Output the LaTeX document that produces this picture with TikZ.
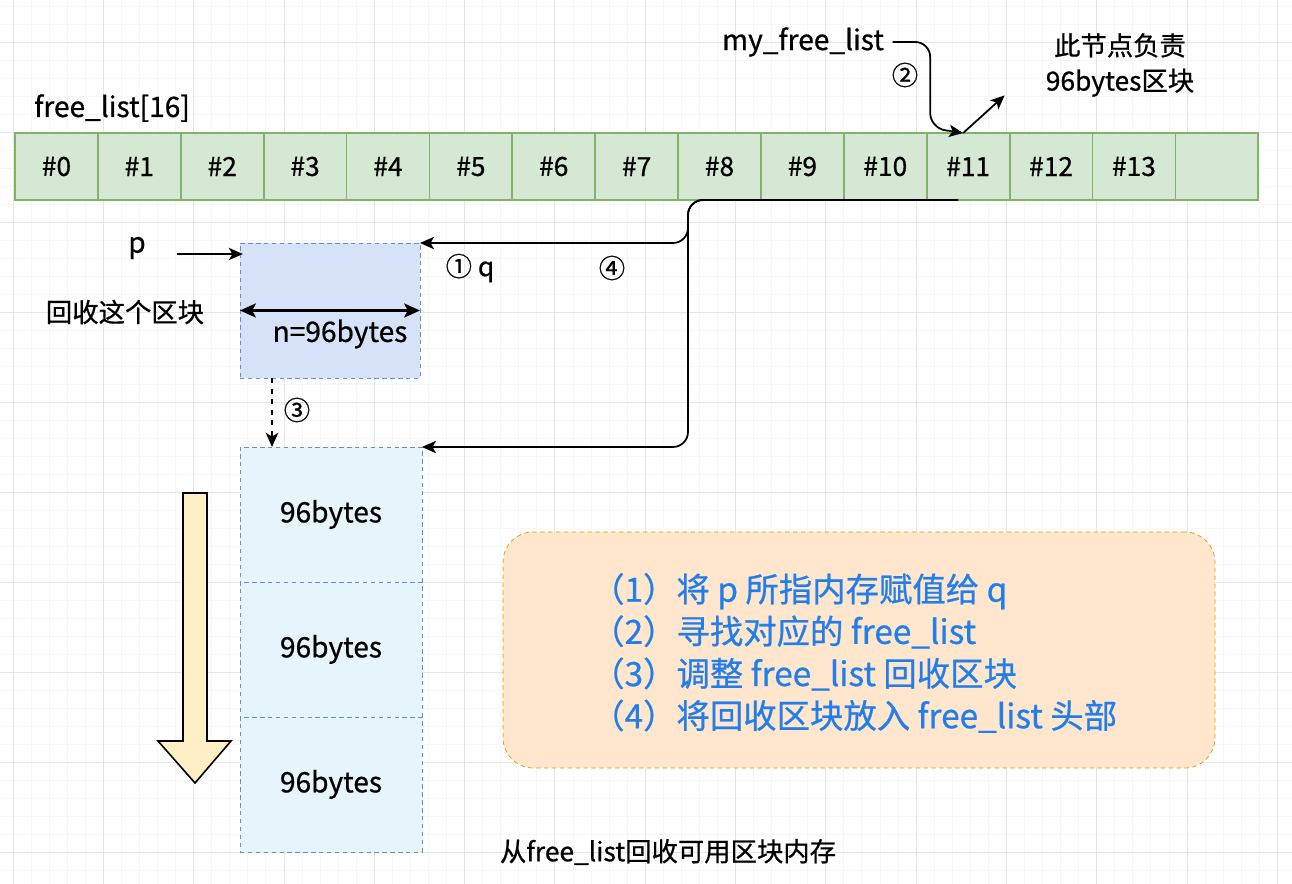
\documentclass[tikz,border=0pt]{standalone}
\usepackage{fontspec}
\setmainfont{Noto Sans CJK SC}[FakeBold=0.7]
\usetikzlibrary{positioning,arrows.meta,calc}

\definecolor{cellfill}{HTML}{D5E8D4}
\definecolor{cellborder}{HTML}{82B366}
\definecolor{pfill}{HTML}{D6E2F7}
\definecolor{blkfill}{HTML}{E6F5FC}
\definecolor{blkborder}{HTML}{6C8EBF}
\definecolor{arrowfill}{HTML}{FFEFC4}
\definecolor{notefill}{HTML}{FFE6CC}
\definecolor{noteborder}{HTML}{D79B00}
\definecolor{notetext}{RGB}{33,126,235}

\tikzset{
  lbl/.style={font=\fontsize{15}{18}\selectfont},
  cell/.style={draw=cellborder, fill=cellfill, line width=1pt, minimum width=1.658cm,
    minimum height=1.34cm, inner sep=0pt, outer sep=0pt, font=\fontsize{15}{16}\selectfont},
  pblock/.style={draw=blkborder, fill=pfill, dashed, dash pattern=on 2.5pt off 2pt,
    minimum width=3.6cm, minimum height=2.7cm, outer sep=0pt},
  block/.style={draw=blkborder, fill=blkfill, dashed, dash pattern=on 2.5pt off 2pt,
    minimum width=3.64cm, minimum height=2.7cm, outer sep=0pt, font=\fontsize{16}{18}\selectfont},
  notebox/.style={draw=noteborder, fill=notefill, dashed, dash pattern=on 2.5pt off 2pt,
    rounded corners=0.6cm, minimum width=14.24cm, minimum height=4.72cm},
  notetxt/.style={align=left, text=notetext, font=\fontsize{19}{24}\selectfont},
  arr/.style={-{Stealth[length=8pt,width=7pt,inset=2pt]}, line width=1pt},
}

\begin{document}
\begin{tikzpicture}[x=0.02cm, y=-0.02cm]
  \useasboundingbox (0,0) rectangle (1292,884);
  \fill[white] (0,0) rectangle (1292,884);
  % grid
  \foreach \k in {0,...,71} \draw[gray!6] ({13+18.06*\k},0) -- ({13+18.06*\k},884);
  \foreach \k in {0,...,49} \draw[gray!6] (0,{6+18*\k}) -- (1292,{6+18*\k});
  \foreach \k in {0,...,14} \draw[gray!20] ({13+90.3*\k},0) -- ({13+90.3*\k},884);
  \foreach \k in {0,...,9} \draw[gray!20] (0,{42+90*\k}) -- (1292,{42+90*\k});

  % free list array
  \node (title) [lbl, anchor=west, font=\fontsize{16}{18}\selectfont] at (28,108) {free\_list[16]};
  \node (c0) [cell] at (56.45,166.5) {\#0};
  \foreach \i [remember=\i as \lasti (initially 0)] in {1,...,14}
    \node (c\i) [cell, right=0pt of c\lasti] {\ifnum\i<14 \#\i\fi};

  \node (mfl) [lbl, font=\fontsize{16}{18}\selectfont] at (803,42) {my\_free\_list};
  \node (two) [lbl] at (905,75) {②};
  \node (resp) [lbl, align=center, font=\fontsize{15}{20}\selectfont] at (1120,65) {此节点负责\\96bytes区块};

  % block to reclaim
  \node (pblk) [pblock] at (330,310.5) {};
  \node (nlbl) [lbl, font=\fontsize{16}{18}\selectfont] at (340,334) {n=96bytes};
  \node (p) [lbl, font=\fontsize{16}{18}\selectfont] at (137,248) {p};
  \node (recl) [lbl] at (125,312) {回收这个区块};
  \node (oneq) [lbl] at (470,268) {① q};
  \node (four) [lbl] at (612,268) {④};
  \node (three) [lbl] at (297,410) {③};

  % free blocks
  \node (blk1) [block] at (331,514.5) {96bytes};
  \node (blk2) [block, below=0pt of blk1] {96bytes};
  \node (blk3) [block, below=0pt of blk2] {96bytes};

  \draw[fill=arrowfill, line width=0.9pt] (183,493) -- (207,493) -- (207,741) -- (231,741)
    -- (195,783) -- (158,741) -- (183,741) -- cycle;

  \node (note) [notebox] at (859,650) {};
  \node (steps) [notetxt, anchor=west] at (585,653) {（1）将 p 所指内存赋值给 q\\（2）寻找对应的 free\_list\\（3）调整 free\_list 回收区块\\（4）将回收区块放入 free\_list 头部};
  \node (cap) [lbl] at (668,852) {从free\_list回收可用区块内存};

  % connectors
  \draw[arr, rounded corners=0.3cm] ([xshift=0.05cm]mfl.east) -| ($(c11.north)+(-38,-5)$) -- ([xshift=-0.1cm]c11.north);
  \draw[arr] ([xshift=-0.1cm]c11.north) -- ([xshift=-0.7cm,yshift=0.15cm]resp.south west);
  \draw[arr, rounded corners=0.3cm] ([xshift=-0.2cm]c11.south) -| ($(pblk.north east)+(268,0)$) -- (pblk.north east);
  \draw[arr, rounded corners=0.3cm] ([xshift=-0.2cm]c11.south) -| ($(blk1.north east)+(266,0)$) -- (blk1.north east);
  \draw[arr] ([xshift=0.5cm]p.east |- pblk.north west) ++(0,11) -- ++(66,0);
  \draw[{Stealth[length=9pt,width=8pt,inset=2pt]}-{Stealth[length=9pt,width=8pt,inset=2pt]}, line width=1.3pt] (pblk.west) -- (pblk.east);
  \draw[arr, dashed] ([xshift=-1.16cm]pblk.south) -- ([xshift=-1.16cm]pblk.south |- blk1.north);
\end{tikzpicture}
\end{document}
